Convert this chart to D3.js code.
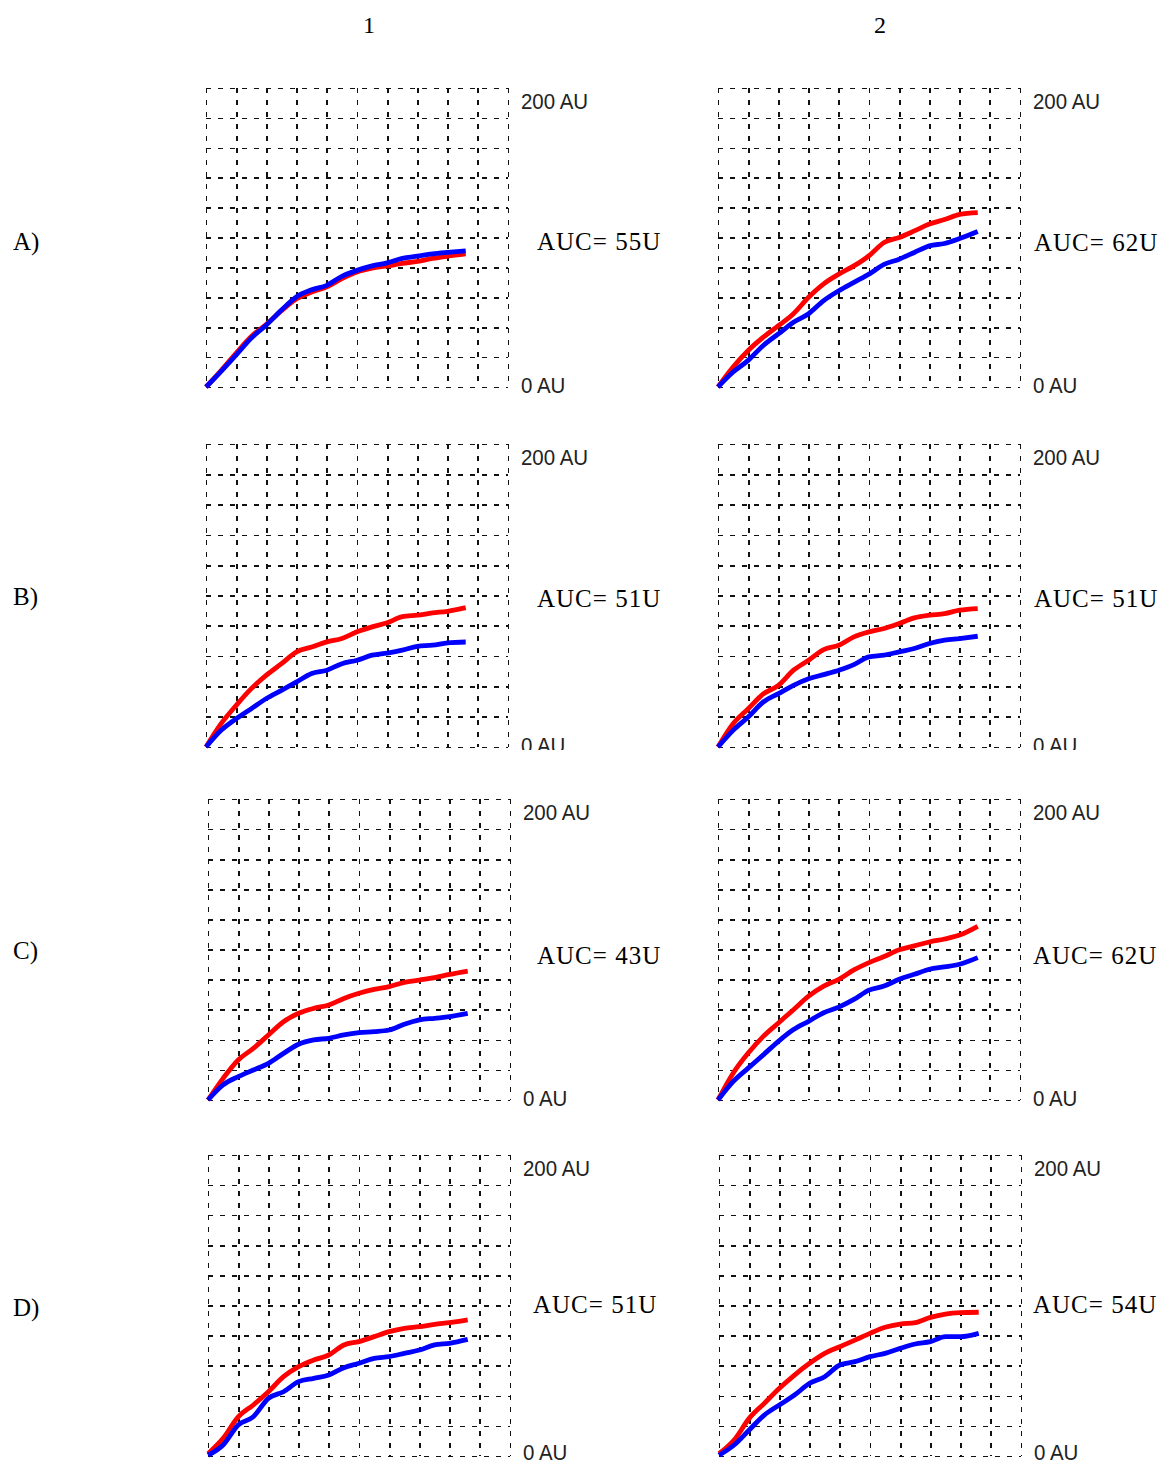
<!DOCTYPE html>
<html>
<head>
<meta charset="utf-8">
<script src="https://cdn.jsdelivr.net/npm/d3@7"></script>
<style>
    body { margin: 0; background: #ffffff; }
    .serif { font-family: "Liberation Serif", "Times New Roman", serif; fill: #000; }
    .au { font-family: "Liberation Sans", Arial, sans-serif; fill: #222; }
    .grid line { stroke: #111; stroke-width: 1.6; stroke-dasharray: 5,7; shape-rendering: crispEdges; }
    .grid .domain { display: none; }
</style>
</head>
<body>
<div id="chart"></div>
<script>
// column and row names
const columns = ["1", "2"];
const rows = ["A)", "B)", "C)", "D)"];

// AUC per row / column
const aucValues = [[55, 62], [51, 51], [43, 62], [51, 54]];

// axis labels
const yTopLabel = "200 AU";
const yBottomLabel = "0 AU";
const yMax = 200;
const xMax = 10;

// sample times (grid divisions)
const timeSteps = [0, 0.5, 1, 1.5, 2, 2.5, 3, 3.5, 4, 4.5, 5, 5.5, 6, 6.5, 7, 7.5, 8, 8.6];

// curves, AU
const redA1  = [0, 11, 22.7, 33.8, 42, 51, 59, 63.5, 67, 72.5, 77, 79.5, 81, 82.7, 84, 86, 87.5, 89];
const blueA1 = [0, 10.5, 21.5, 32.7, 41.5, 51.5, 60.4, 65, 68, 74, 78, 81, 83, 86, 87.5, 89, 90, 91];
const redA2  = [0, 13.3, 24.4, 33.3, 41, 49, 60, 69, 75.5, 81, 87.8, 96.7, 100, 104.4, 109, 112, 115.5, 116.7];
const blueA2 = [0, 10, 17.8, 27.8, 35.5, 43.3, 49, 57.8, 64.4, 70, 75.5, 82, 85.5, 90, 94.4, 96, 99.3, 104];
const redB1  = [0, 15.4, 27.5, 38.5, 47.4, 55, 62.8, 66, 69.4, 71.6, 76, 79.3, 82, 86, 87, 88.5, 89.6, 92];
const blueB1 = [0, 11, 18.7, 25.3, 32, 37.4, 43, 48.5, 50.7, 55, 57.3, 60.6, 62, 63.9, 66.5, 67.2, 68.7, 69.3];
const redB2  = [0, 15.4, 25.3, 35, 40.7, 50.7, 57.3, 64.3, 67.2, 72.7, 76, 78.2, 81.5, 85.2, 87, 88, 90.3, 91.4];
const blueB2 = [0, 11, 19.8, 29.7, 35.2, 40.7, 45, 47.8, 50.7, 54.4, 59.5, 60.6, 62.8, 65, 68.3, 70.5, 71.6, 73.1];
const redC1  = [0, 14.4, 26.6, 34.3, 43.2, 52, 57.6, 60.9, 63.1, 67.5, 70.9, 73.5, 75.3, 78.2, 79.7, 81.3, 83.5, 85.7];
const blueC1 = [0, 10, 15.5, 19.9, 24.4, 31, 37, 39.9, 41, 43.2, 44.7, 45.4, 46.5, 50.3, 53.2, 54.3, 55.4, 57.6];
const redC2  = [0, 17.8, 31.2, 42.3, 51.2, 60, 69, 75.7, 80.2, 86.4, 91.3, 95.3, 99.8, 102.4, 105, 107, 109.6, 115.4];
const blueC2 = [0, 12.2, 21.2, 30, 39, 46.8, 52.3, 58, 61.7, 66.8, 73, 75.7, 80.2, 83.5, 86.9, 88.4, 90.2, 94.6];
const redD1  = [1.5, 11.7, 26, 33.9, 42.7, 52.7, 59.4, 63.8, 67.1, 73.8, 76, 79.3, 82.6, 84.8, 85.9, 87.5, 88.6, 90.4];
const blueD1 = [0.5, 7.3, 20.6, 26.1, 38.3, 42.7, 49.4, 51.6, 53.8, 58.7, 61.6, 64.9, 66, 68.2, 70.4, 73.8, 74.9, 77.5];
const redD2  = [1.5, 10.6, 25, 35, 45, 53.8, 61.6, 68.2, 72.6, 77, 81.5, 85.5, 87.7, 88.6, 92.1, 94.3, 95.2, 95.5];
const blueD2 = [0.5, 7.3, 17.3, 27.2, 33.9, 40.5, 48.3, 52.7, 60.5, 62.7, 66, 68.2, 71.5, 74.4, 76, 79.3, 79.3, 81.5];

const redSeries  = [[redA1, redA2], [redB1, redB2], [redC1, redC2], [redD1, redD2]];
const blueSeries = [[blueA1, blueA2], [blueB1, blueB2], [blueC1, blueC2], [blueD1, blueD2]];

// layout
const width = 1160, height = 1463;
const gridW = 302;
const gridH = [299, 303, 301, 301];
const colLeft = [[206, 718], [206, 718], [208, 718], [208, 719]];
const rowTop = [88, 444, 799, 1155];
const colHeaderX = [369, 880];
const rowLabelY = [250, 605, 959, 1316];
const aucPos = [[[537, 250], [1034, 251]], [[537, 607], [1034, 607]], [[537, 964], [1033, 964]], [[533, 1313], [1033, 1313]]];
const bottomLabelDy = [6, 6, 6, 4];
const labelClipBottom = [null, 750, null, null];

const svg = d3.select("#chart")
    .append("svg")
        .attr("width", width)
        .attr("height", height);

// column headers
svg.selectAll(".colhead")
    .data(columns)
    .enter()
    .append("text")
        .attr("class", "serif")
        .attr("x", (d, i) => colHeaderX[i])
        .attr("y", 33)
        .attr("text-anchor", "middle")
        .attr("font-size", 24)
        .text(d => d);

// row labels
svg.selectAll(".rowhead")
    .data(rows)
    .enter()
    .append("text")
        .attr("class", "serif")
        .attr("x", 13)
        .attr("y", (d, i) => rowLabelY[i])
        .attr("font-size", 25)
        .text(d => d);

rows.forEach((rowName, r) => {
    columns.forEach((colName, c) => {
        const left = colLeft[r][c];
        const top = rowTop[r];
        const x = d3.scaleLinear().domain([0, xMax]).range([left, left + gridW]);
        const y = d3.scaleLinear().domain([0, yMax]).range([top + gridH[r], top]);
        const panel = svg.append("g");

        // dashed grid: vertical lines drawn top-down, horizontal left-right
        panel.append("g")
            .attr("class", "grid")
            .attr("transform", `translate(0, ${top})`)
            .call(d3.axisTop(x).ticks(xMax).tickSize(-gridH[r]).tickFormat(""));
        panel.append("g")
            .attr("class", "grid")
            .attr("transform", `translate(${left}, 0)`)
            .call(d3.axisLeft(y).ticks(10).tickSize(-gridW).tickFormat(""));

        const line = d3.line()
            .x((d, i) => x(timeSteps[i]))
            .y(d => y(d))
            .curve(d3.curveMonotoneX);

        panel.append("path")
            .attr("d", line(redSeries[r][c]))
            .attr("fill", "none")
            .attr("stroke", "#ff0000")
            .attr("stroke-width", 4.8)
            .attr("stroke-linejoin", "round");
        panel.append("path")
            .attr("d", line(blueSeries[r][c]))
            .attr("fill", "none")
            .attr("stroke", "#0000ff")
            .attr("stroke-width", 4.8)
            .attr("stroke-linejoin", "round");

        // AU labels on the right
        let labels = panel.append("g");
        if (labelClipBottom[r] !== null) {
            const clipId = "clip-" + r + "-" + c;
            svg.append("clipPath").attr("id", clipId)
                .append("rect")
                    .attr("x", 0).attr("y", 0)
                    .attr("width", width).attr("height", labelClipBottom[r]);
            labels.attr("clip-path", `url(#${clipId})`);
        }
        const labelX = x(xMax) + 13;
        labels.append("text")
            .attr("class", "au")
            .attr("font-size", 22)
            .attr("transform", `translate(${labelX}, ${y(yMax) + 20.5}) scale(0.93, 1)`)
            .text(yTopLabel);
        labels.append("text")
            .attr("class", "au")
            .attr("font-size", 22)
            .attr("transform", `translate(${labelX}, ${y(0) + bottomLabelDy[r]}) scale(0.93, 1)`)
            .text(yBottomLabel);

        // AUC text
        panel.append("text")
            .attr("class", "serif")
            .attr("x", aucPos[r][c][0])
            .attr("y", aucPos[r][c][1])
            .attr("font-size", 25)
            .attr("letter-spacing", 1)
            .text("AUC= " + aucValues[r][c] + "U");
    });
});
</script>
</body>
</html>
